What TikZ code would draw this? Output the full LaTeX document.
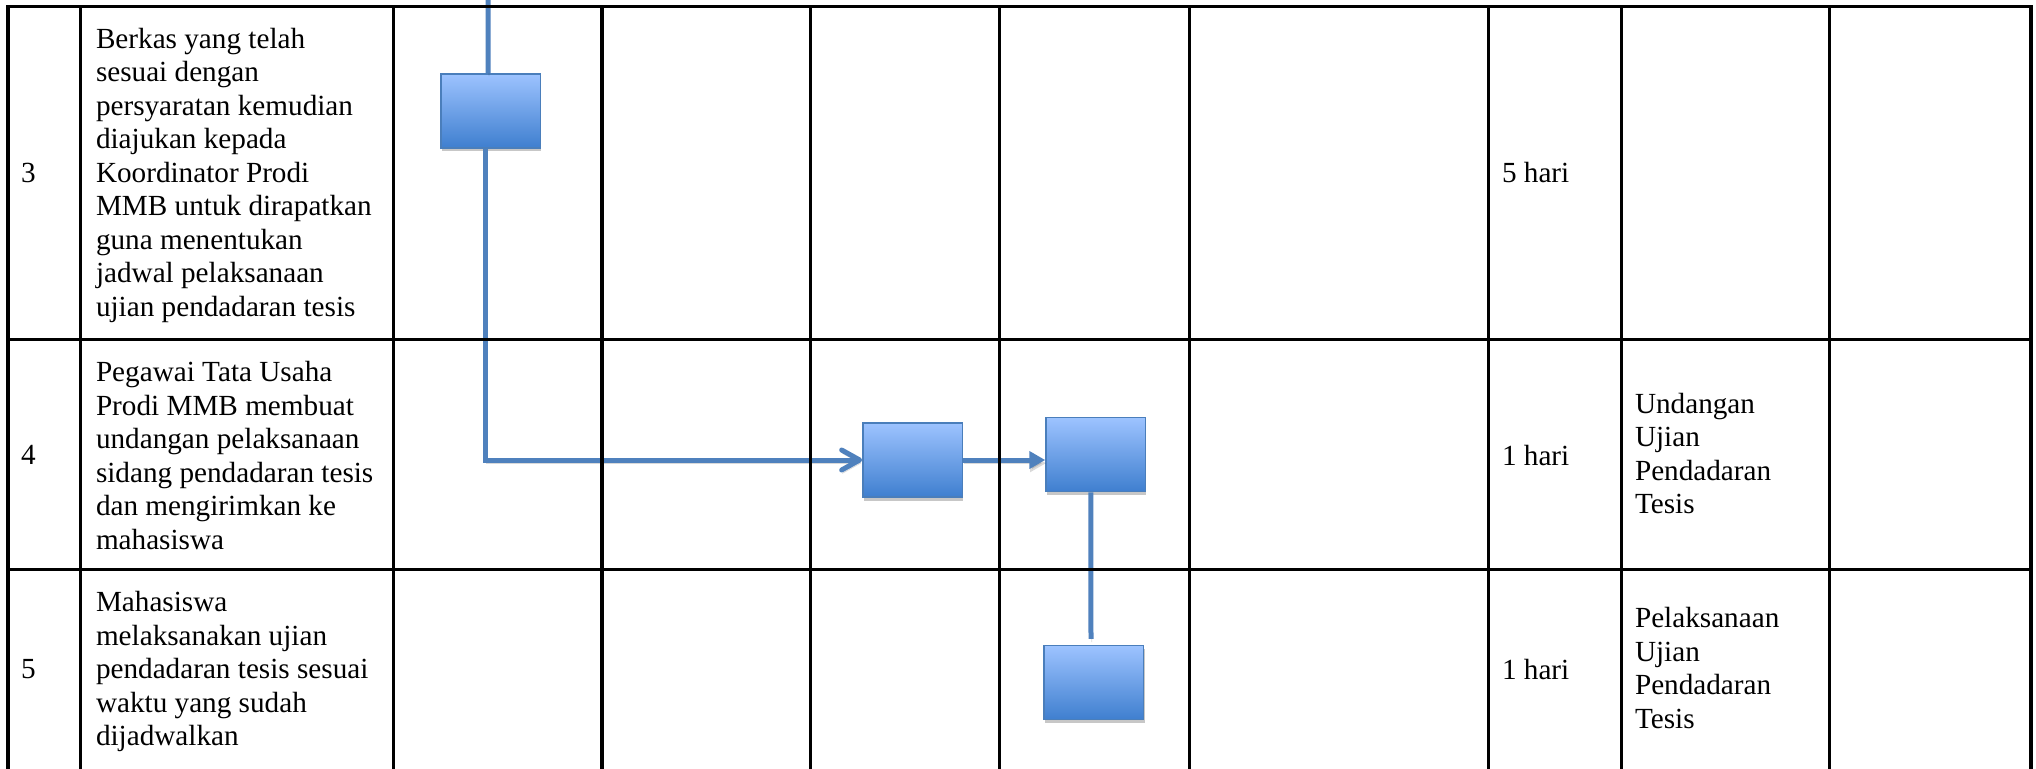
\documentclass[tikz,border=0pt]{standalone}
\usepackage{fontspec}
\setmainfont{Liberation Serif}
\usetikzlibrary{arrows.meta,shadows,calc}
\definecolor{flowblue}{HTML}{4F81BD}
\definecolor{boxtop}{HTML}{9DC3FF}
\definecolor{boxbot}{HTML}{3F7FCF}
\definecolor{boxedge}{HTML}{4A7EBB}
\begin{document}
\begin{tikzpicture}[x=0.5pt,y=-0.5pt,
  txt/.style={anchor=base west,inner sep=0pt,outer sep=0pt,font=\fontsize{14.6}{16.75}\selectfont},
  grid/.style={draw=black,line width=1.55pt,line cap=rect},
  flowbox/.style={draw=boxedge,line width=0.8pt,top color=boxtop,bottom color=boxbot,
    minimum width=49.7pt,minimum height=37pt,inner sep=0pt,
    drop shadow={shadow xshift=0.5pt,shadow yshift=-1.8pt,opacity=0.22,fill=black}},
  flow/.style={draw=flowblue,line width=2.5pt,
    preaction={draw=black,opacity=0.15,transform canvas={shift={(0.4pt,-1.6pt)}}}}
]
\useasboundingbox (0,0) rectangle (2036,768);
\fill[white] (0,0) rectangle (2036,768);

% flow boxes
\node[flowbox] (b1) at (490.75,110.7) {};
\node[flowbox] (ba) at (912.65,460) {};
\node[flowbox] (bb) at (1095.75,454.6) {};
\node[flowbox] (bc) at (1093.8,682.65) {};
\coordinate (topin) at (488.2,0);

% connectors
\draw[flow] (topin) -- ([xshift=-1.3pt]b1.north);
\draw[flow,-{Straight Barb[length=9pt,width=10pt,round]}] ([xshift=-2.4pt]b1.south) |- (ba.west);
\draw[flow,-{Triangle[length=8pt,width=8.5pt]}] (ba.east) -- (ba.east -| bb.west);
\draw[flow] ([xshift=-2.5pt]bb.south) -- ([xshift=-1.4pt,yshift=3pt]bc.north);

% table grid
\draw[grid] (8,6.7) -- (2031,6.7);
\draw[grid] (8,339.3) -- (2031,339.3);
\draw[grid] (8,569.3) -- (2031,569.3);
\foreach \cx in {8,80.7,393.5,602,810.3,999.2,1189.3,1488.8,1621.2,1829.8,2031}
  \draw[grid] (\cx,6.7) -- (\cx,770);

% numbers
\node[txt] (n3) at (21,182.7) {3};
\node[txt] (n4) at (21,464.3) {4};
\node[txt] (n5) at (21,678.3) {5};

% activity texts
\node[txt] (t3) at (96,48.3) {\vtop{\hbox{Berkas yang telah}\hbox{sesuai dengan}\hbox{persyaratan kemudian}\hbox{diajukan kepada}\hbox{Koordinator Prodi}\hbox{MMB untuk dirapatkan}\hbox{guna menentukan}\hbox{jadwal pelaksanaan}\hbox{ujian pendadaran tesis}}};
\node[txt] (t4) at (96,381.7) {\vtop{\hbox{Pegawai Tata Usaha}\hbox{Prodi MMB membuat}\hbox{undangan pelaksanaan}\hbox{sidang pendadaran tesis}\hbox{dan mengirimkan ke}\hbox{mahasiswa}}};
\node[txt] (t5) at (96,611.7) {\vtop{\hbox{Mahasiswa}\hbox{melaksanakan ujian}\hbox{pendadaran tesis sesuai}\hbox{waktu yang sudah}\hbox{dijadwalkan}}};

% durations
\node[txt] (d3) at (1502,182.7) {5 hari};
\node[txt] (d4) at (1502,465) {1 hari};
\node[txt] (d5) at (1502,679) {1 hari};

% outputs
\node[txt] (o4) at (1635,413.3) {\vtop{\hbox{Undangan}\hbox{Ujian}\hbox{Pendadaran}\hbox{Tesis}}};
\node[txt] (o5) at (1635,627.7) {\vtop{\hbox{Pelaksanaan}\hbox{Ujian}\hbox{Pendadaran}\hbox{Tesis}}};
\end{tikzpicture}
\end{document}
